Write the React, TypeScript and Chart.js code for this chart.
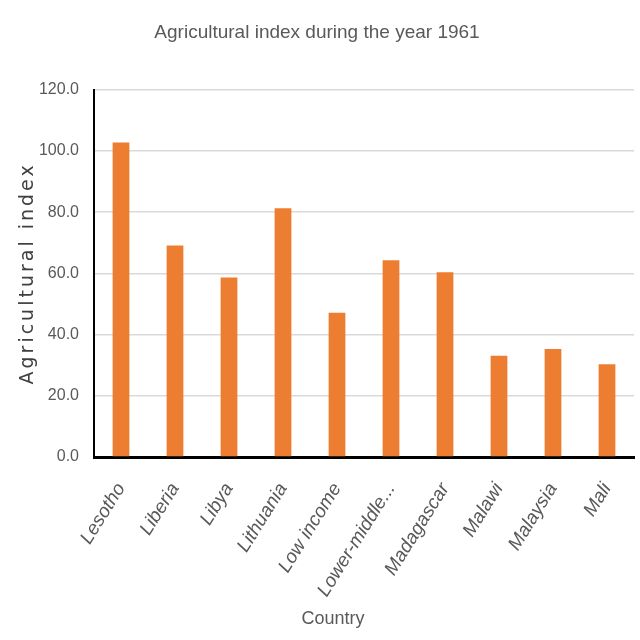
import React, { useEffect, useRef } from "react";
import { Chart, registerables } from "chart.js";

Chart.register(...registerables);

const categories: string[] = [
  "Lesotho",
  "Liberia",
  "Libya",
  "Lithuania",
  "Low income",
  "Lower-middle...",
  "Madagascar",
  "Malawi",
  "Malaysia",
  "Mali",
];

const agriculturalIndex: number[] = [102.8, 69.1, 58.7, 81.3, 47.1, 64.3, 60.4, 33.1, 35.3, 30.3];

const yTicks: number[] = [0, 20, 40, 60, 80, 100, 120];

const chartTitle = "Agricultural index during the year 1961";
const xAxisTitle = "Country";
const yAxisTitle = "Agricultural index";

const FONT = "'Liberation Sans', Arial, sans-serif";

const axisTitlePlugin = {
  id: "axisTitlePlugin",
  afterDraw(chart: any) {
    const { ctx, chartArea } = chart;
    ctx.save();
    ctx.translate(28, (chartArea.top + chartArea.bottom) / 2);
    ctx.rotate(-Math.PI / 2);
    ctx.font = "19px 'DejaVu Sans', sans-serif";
    (ctx as any).letterSpacing = "3px";
    ctx.fillStyle = "#404040";
    ctx.textAlign = "center";
    ctx.textBaseline = "middle";
    ctx.fillText(yAxisTitle, 0, 0);
    ctx.restore();

    ctx.save();
    ctx.font = "18px " + FONT;
    ctx.fillStyle = "#595959";
    ctx.textAlign = "center";
    ctx.textBaseline = "middle";
    ctx.fillText(xAxisTitle, 333, 619);
    ctx.restore();
  },
};

export default function App() {
  const canvasRef = useRef<HTMLCanvasElement | null>(null);

  useEffect(() => {
    if (!canvasRef.current) return;
    const chart = new Chart(canvasRef.current, {
      type: "bar",
      data: {
        labels: categories,
        datasets: [
          {
            label: yAxisTitle,
            data: agriculturalIndex,
            backgroundColor: "#ED7D31",
            borderWidth: 0,
            categoryPercentage: 1,
            barPercentage: 0.31,
          },
        ],
      },
      plugins: [axisTitlePlugin],
      options: {
        responsive: false,
        animation: false,
        devicePixelRatio: 1,
        layout: { padding: { left: 0, right: 6, top: 0, bottom: 0 } },
        plugins: {
          legend: { display: false },
          tooltip: { enabled: false },
          title: {
            display: true,
            text: chartTitle,
            color: "#595959",
            font: { family: FONT, size: 19, weight: "normal" },
            padding: { top: 21, bottom: 46 },
          },
        },
        scales: {
          x: {
            grid: { display: false, drawTicks: false },
            border: { display: true, color: "#000000", width: 3 },
            ticks: {
              color: "#595959",
              font: { family: FONT, size: 19, style: "italic" },
              minRotation: 58,
              maxRotation: 58,
              autoSkip: false,
              padding: 22,
            },
            title: { display: false, text: xAxisTitle },
            afterFit(scale: any) {
              scale.height = 183;
              scale.paddingRight = 0;
            },
          },
          y: {
            min: 0,
            max: 120,
            afterBuildTicks(scale: any) {
              scale.ticks = yTicks.map((v) => ({ value: v }));
            },
            grid: { color: "#d9d9d9", lineWidth: 1.5, drawTicks: false },
            border: { display: true, color: "#000000", width: 2 },
            ticks: {
              color: "#595959",
              font: { family: FONT, size: 16 },
              padding: 15,
              callback: (v: any) => Number(v).toFixed(1),
            },
            title: { display: false, text: yAxisTitle },
            afterFit(scale: any) {
              scale.width = 94;
            },
          },
        },
      },
    });
    return () => chart.destroy();
  }, []);

  return (
    <div style={{ position: "absolute", left: 0, top: 0, width: 640, height: 640, background: "#fff" }}>
      <canvas ref={canvasRef} width={640} height={640} />
    </div>
  );
}
